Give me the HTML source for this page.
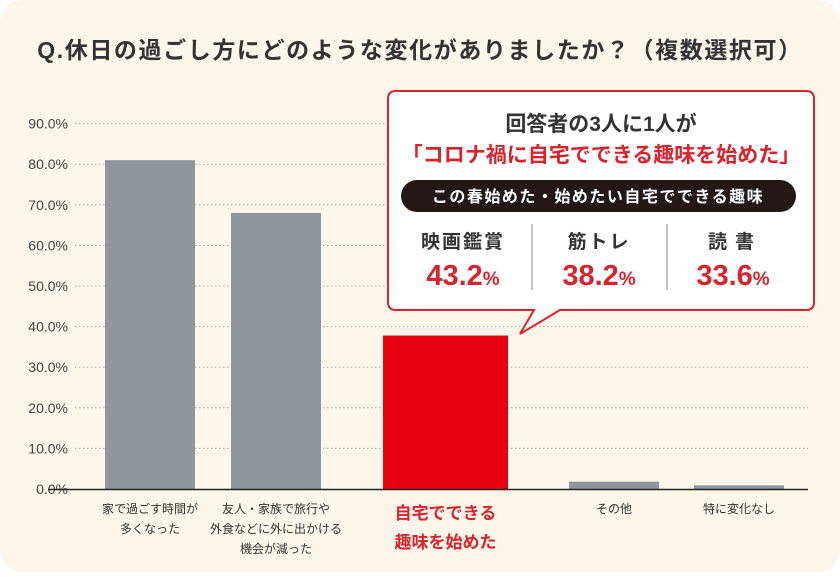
<!DOCTYPE html>
<html><head><meta charset="utf-8">
<style>
body{margin:0;background:#fff;}
svg text{font-family:"Liberation Sans","Noto Sans CJK JP",sans-serif;}
</style></head>
<body>
<svg width="840" height="572" viewBox="0 0 840 572" xmlns="http://www.w3.org/2000/svg">
<rect x="0" y="0" width="840" height="572" rx="22" fill="#fdf6ea"/>
<text x="420" y="58" text-anchor="middle" font-size="23" font-weight="bold" fill="#333" letter-spacing="1.6">Q.休日の過ごし方にどのような変化がありましたか？（複数選択可）</text>
<g id="grid"></g>
<g id="bars"></g>
<g id="xlabels"></g>
<g>
<path d="M396,91 H806 Q814,91 814,99 V302 Q814,310 806,310 H560 L520,334 L534,310 H396 Q388,310 388,302 V99 Q388,91 396,91 Z" fill="#fff" stroke="#d9232d" stroke-width="2"/>
<text x="601" y="131" text-anchor="middle" font-size="21" font-weight="bold" fill="#333">回答者の3人に1人が</text>
<text x="601" y="162" text-anchor="middle" font-size="21" font-weight="bold" fill="#d9232d">「コロナ禍に自宅でできる趣味を始めた」</text>
<rect x="401" y="180" width="395" height="32" rx="16" fill="#231815"/>
<text x="598" y="202" text-anchor="middle" font-size="16" font-weight="bold" fill="#fff" letter-spacing="1.5">この春始めた・始めたい自宅でできる趣味</text>
<line x1="532" y1="224" x2="532" y2="290" stroke="#888" stroke-width="1"/>
<line x1="667" y1="224" x2="667" y2="290" stroke="#888" stroke-width="1"/>
<text x="463" y="248" text-anchor="middle" font-size="19" font-weight="bold" fill="#333" letter-spacing="2">映画鑑賞</text>
<text x="599" y="248" text-anchor="middle" font-size="19" font-weight="bold" fill="#333" letter-spacing="2">筋トレ</text>
<text x="735" y="248" text-anchor="middle" font-size="19" font-weight="bold" fill="#333" letter-spacing="8">読書</text>
<text x="463" y="285" text-anchor="middle" font-size="29" font-weight="bold" fill="#d9232d">43.2<tspan font-size="19">%</tspan></text>
<text x="599" y="285" text-anchor="middle" font-size="29" font-weight="bold" fill="#d9232d">38.2<tspan font-size="19">%</tspan></text>
<text x="733" y="285" text-anchor="middle" font-size="29" font-weight="bold" fill="#d9232d">33.6<tspan font-size="19">%</tspan></text>
</g>
</svg>
<script>
const categories=[["家で過ごす時間が","多くなった"],["友人・家族で旅行や","外食などに外に出かける","機会が減った"],["自宅でできる","趣味を始めた"],["その他"],["特に変化なし"]];
const values=[81,68,37.8,1.8,0.9];
const highlight=[false,false,true,false,false];
const ticks=[0,10,20,30,40,50,60,70,80,90];
const NS="http://www.w3.org/2000/svg";
const y0=489,pxPer=4.06;
const yS=v=>y0-v*pxPer;
const barX=[105,231,383,569,694],barW=[90,90,125,90,90];
function mk(t,a,p){const e=document.createElementNS(NS,t);for(const k in a)e.setAttribute(k,a[k]);p.appendChild(e);return e;}
const grid=document.getElementById('grid');
ticks.forEach(t=>{
 if(t>0){const l=mk('line',{x1:75,x2:808,y1:yS(t),y2:yS(t),stroke:'#aaa','stroke-width':1,'stroke-dasharray':'1.5 2.5'},grid);
 
 }
 const tx=mk('text',{x:68,y:yS(t)+5,'text-anchor':'end','font-size':14,fill:'#444'},grid);
 tx.textContent=t.toFixed(1)+'%';
 
 
});
const bars=document.getElementById('bars');
values.forEach((v,i)=>{
 const r=mk('rect',{x:barX[i],y:yS(v),width:barW[i],height:v*pxPer,fill:highlight[i]?'#e60012':'#8f979c'},bars);
 
 
});
const ax=mk('line',{x1:48,x2:808,y1:y0+0.5,y2:y0+0.5,stroke:'#222','stroke-width':1.5},bars);


const xl=document.getElementById('xlabels');
categories.forEach((c,i)=>{
 const cx=barX[i]+barW[i]/2;
 c.forEach((line,j)=>{
  const h=highlight[i];
  const t=mk('text',{x:cx,y:h?(519+j*29):(513+j*20),'text-anchor':'middle','font-size':h?17:12,'font-weight':h?'bold':'normal',fill:h?'#d9232d':'#333'},xl);
  t.textContent=line;
  
  
 });
});
</script>
</body></html>
